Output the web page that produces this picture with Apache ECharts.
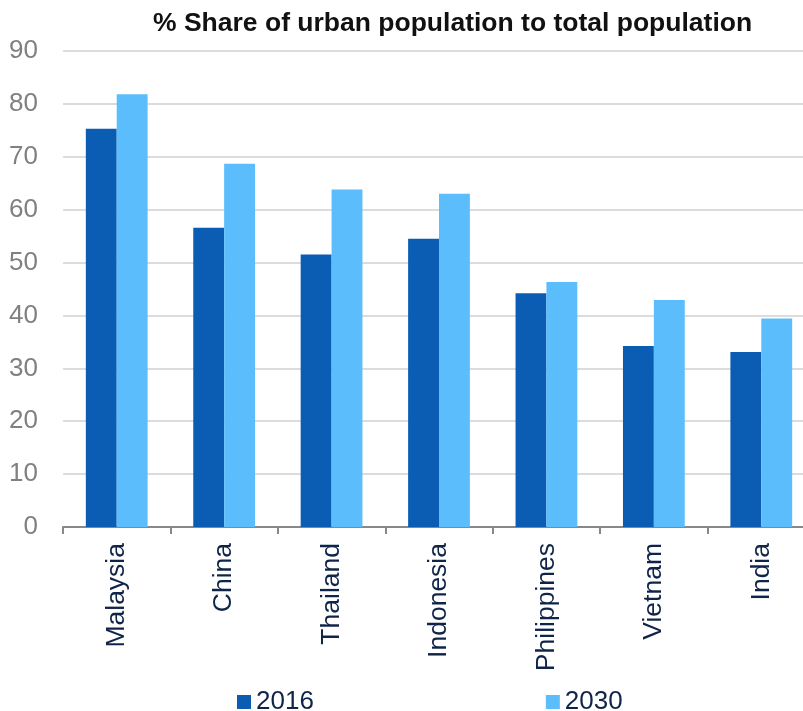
<!DOCTYPE html>
<html><head><meta charset="utf-8">
<script src="https://cdn.jsdelivr.net/npm/echarts@6/dist/echarts.min.js"></script>
<style>html,body{margin:0;padding:0;background:#fff}#c{width:803px;height:711px}</style>
</head><body><div id="c"></div>
<script>
const categories = ['Malaysia','China','Thailand','Indonesia','Philippines','Vietnam','India'];
const values2016 = [75.3, 56.6, 51.5, 54.5, 44.2, 34.2, 33.1];
const values2030 = [81.8, 68.7, 63.8, 63.0, 46.3, 42.9, 39.4];
const yTicks = [0,10,20,30,40,50,60,70,80,90];
const seriesNames = ['2016','2030'];

const font = 'Liberation Sans, Arial, sans-serif';
const chart = echarts.init(document.getElementById('c'));
chart.setOption({
  animation:false,
  backgroundColor:'#fff',
  title:{text:'% Share of urban population to total population',left:148,top:5,
    textStyle:{fontFamily:font,fontSize:26.5,fontWeight:'bold',color:'#111'}},
  legend:{data:seriesNames,left:232,top:684,itemWidth:14,itemHeight:14,itemGap:232,
    icon:'rect',textStyle:{fontFamily:font,fontSize:26,color:'#0f2448'}},
  grid:{left:63,top:51,width:752,height:476,outerBoundsMode:'none'},
  xAxis:{type:'category',data:categories,
    axisLine:{lineStyle:{color:'#888',width:2}},
    axisTick:{show:true,length:7,lineStyle:{color:'#888',width:2}},
    axisLabel:{rotate:90,margin:16,fontFamily:font,fontSize:26.5,color:'#0f2448'}},
  yAxis:{type:'value',min:yTicks[0],max:yTicks[yTicks.length-1],interval:10,
    axisLine:{show:false},axisTick:{show:false},
    splitLine:{lineStyle:{color:'#dcdcdc',width:2}},
    axisLabel:{margin:25,fontFamily:font,fontSize:26,color:'#808080'}},
  series:[
    {name:seriesNames[0],type:'bar',data:values2016,barGap:'0%',barCategoryGap:'42.5%',
      itemStyle:{color:'#0b5db3'}},
    {name:seriesNames[1],type:'bar',data:values2030,barGap:'0%',barCategoryGap:'42.5%',
      itemStyle:{color:'#5cbdfd'}}
  ]
});
</script></body></html>
